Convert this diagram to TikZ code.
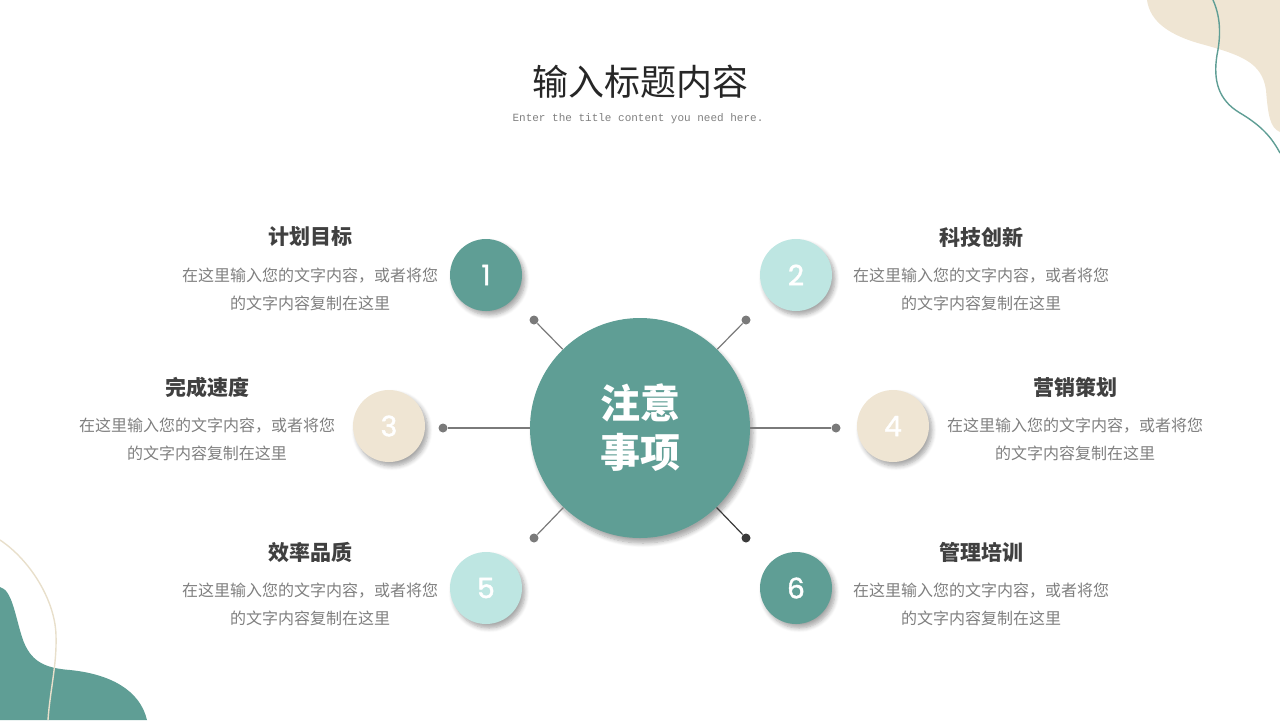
\documentclass[tikz,border=0pt]{standalone}
\usepackage{fontspec}
\setmainfont{Noto Sans CJK SC}
\newfontfamily\numfont{Poppins}[FakeBold=1.6]
\newfontfamily\subfont{Liberation Mono}
\usetikzlibrary{shadows.blur}
\definecolor{mainteal}{HTML}{5F9E95}
\definecolor{lightcyan}{HTML}{BEE6E2}
\definecolor{softbeige}{HTML}{EFE5D3}
\definecolor{linebeige}{HTML}{E8DFCB}
\definecolor{headgray}{HTML}{404040}
\definecolor{bodygray}{HTML}{7F7F7F}
\definecolor{titlegray}{HTML}{262626}
\definecolor{linegray}{HTML}{7A7A7A}
\definecolor{linedark}{HTML}{3A3A3A}

\begin{document}
\begin{tikzpicture}[x=0.5pt,y=-0.5pt,
  bignode/.style={circle,fill=mainteal,minimum size=110pt,inner sep=0pt,text=white,align=center,
    font=\bfseries\fontsize{20}{24.5}\selectfont,
    blur shadow={shadow xshift=1.5pt,shadow yshift=-2.5pt,shadow blur steps=8,shadow opacity=35}},
  numnode/.style={circle,minimum size=36pt,inner sep=0pt,text=white,
    font=\numfont\fontsize{14}{14}\selectfont,
    blur shadow={shadow xshift=1.5pt,shadow yshift=-2pt,shadow blur steps=6,shadow opacity=35}},
  dotnode/.style={circle,fill=linegray,minimum size=4.5pt,inner sep=0pt},
  headnode/.style={text=headgray,font=\bfseries\fontsize{10.5}{12}\selectfont},
  bodynode/.style={text=bodygray,align=center,font=\fontsize{8}{14}\selectfont},
  link/.style={linegray,line width=0.6pt}]
%%
\useasboundingbox (0,0) rectangle (1280,720);
% corner shapes
\fill[softbeige] (1147,0) .. controls (1150,22) and (1170,36) .. (1205,45)
  .. controls (1240,55) and (1262,62) .. (1266,90)
  .. controls (1268,115) and (1270,128) .. (1280,132) -- (1280,0) -- cycle;
\draw[mainteal,line width=0.7pt] (1213,0) .. controls (1222,20) and (1220,40) .. (1217,55)
  .. controls (1213,80) and (1218,100) .. (1240,113)
  .. controls (1262,126) and (1272,138) .. (1280,153);
\fill[mainteal] (0,587) .. controls (12,590) and (15,615) .. (22,637)
  .. controls (30,662) and (45,668) .. (70,670)
  .. controls (110,674) and (140,690) .. (147,720) -- (0,720) -- cycle;
\draw[linebeige,line width=0.7pt] (0,540) .. controls (30,560) and (55,600) .. (56,635)
  .. controls (57,665) and (50,690) .. (48,720);
% title
\node (title) at (640,82) [text=titlegray,font=\fontsize{18}{20}\selectfont] {输入标题内容};
\node (subtitle) at (638,119) [text=bodygray,font=\subfont\fontsize{5.5}{6}\selectfont] {Enter the title content you need here.};
% dots
\node (dot_1) at (534,320) [dotnode] {};
\node (dot_2) at (746,320) [dotnode] {};
\node (dot_3) at (443,428) [dotnode] {};
\node (dot_4) at (836,428) [dotnode] {};
\node (dot_5) at (534,538) [dotnode] {};
\node (dot_6) at (746,538) [dotnode,fill=linedark] {};
% centre
\node (node_c) at (640,428) [bignode] {注意\\事项};
\draw [link] (node_c) -- (dot_1);
\draw [link] (node_c) -- (dot_2);
\draw [link] (node_c) -- (dot_3);
\draw [link] (node_c) -- (dot_4);
\draw [link] (node_c) -- (dot_5);
\draw [link,linedark] (node_c) -- (dot_6);
% numbered circles
\node (node_1) at (486,275) [numnode,fill=mainteal] {1};
\node (node_2) at (796,275) [numnode,fill=lightcyan] {2};
\node (node_3) at (389,426) [numnode,fill=softbeige] {3};
\node (node_4) at (893,426) [numnode,fill=softbeige] {4};
\node (node_5) at (486,588) [numnode,fill=lightcyan] {5};
\node (node_6) at (796,588) [numnode,fill=mainteal] {6};
% labels
\node (head_1) at (310,237) [headnode] {计划目标};
\node (text_1) at (310,289) [bodynode] {在这里输入您的文字内容，或者将您\\的文字内容复制在这里};
\node (head_2) at (981,237) [headnode] {科技创新};
\node (text_2) at (981,289) [bodynode] {在这里输入您的文字内容，或者将您\\的文字内容复制在这里};
\node (head_3) at (207,387) [headnode] {完成速度};
\node (text_3) at (207,439) [bodynode] {在这里输入您的文字内容，或者将您\\的文字内容复制在这里};
\node (head_4) at (1075,387) [headnode] {营销策划};
\node (text_4) at (1075,439) [bodynode] {在这里输入您的文字内容，或者将您\\的文字内容复制在这里};
\node (head_5) at (310,552) [headnode] {效率品质};
\node (text_5) at (310,604) [bodynode] {在这里输入您的文字内容，或者将您\\的文字内容复制在这里};
\node (head_6) at (981,552) [headnode] {管理培训};
\node (text_6) at (981,604) [bodynode] {在这里输入您的文字内容，或者将您\\的文字内容复制在这里};
%
\end{tikzpicture}
\end{document}
